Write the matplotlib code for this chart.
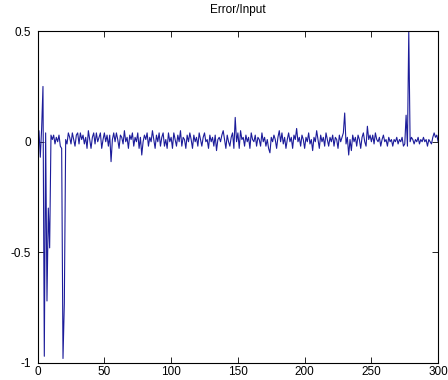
import numpy as np
import matplotlib.pyplot as plt

plt.rcParams['font.family'] = ['Liberation Sans', 'DejaVu Sans']

# Error/Input signal (in hundredths), one value per sample 0..300
err_pct = [
    0, 5, -7, 6, 25, -97, 4, -72, -30, -48,
    3, 1, 3, -1, 2, 0, 3, -2, -3, -98,
    -73, 1, -1, 4, 2, -1, 4, 1, -2, 3,
    4, -1, 4, 1, 3, -1, 2, -3, 5, 1,
    -3, 2, 4, -1, 4, 0, 2, 4, -3, 1,
    4, 0, 3, -2, 3, -9, 1, 4, 0, 4,
    1, -3, 3, 2, -1, 5, 0, 2, -3, 3,
    1, 4, -2, 2, 0, 4, -3, 2, -6, 0,
    3, 1, 4, -2, 2, 0, 5, 1, -3, 3,
    0, 4, -2, 2, 4, -2, 1, -3, 4, 0,
    2, -3, 4, 1, -2, 3, 0, 5, -2, 2,
    1, -3, 3, 0, 4, 1, -3, 3, 0, 2,
    -2, 4, 1, -2, 2, 4, 0, 1, -3, 3,
    0, 2, -2, 3, -4, 1, 2, 0, 3, 5,
    1, -3, 3, 0, -2, 2, 4, -3, 11, 0,
    4, -3, 5, 1, 2, -2, 3, 0, 2, -3,
    4, 1, 0, 3, -2, 2, 1, -2, 4, 0,
    2, -2, 1, -3, -5, 2, 0, 3, 1, -3,
    2, 5, 0, 4, -1, 2, -3, 1, 4, 0,
    2, -3, 3, 1, 6, 0, 2, -2, 3, 1,
    -3, 2, 0, 4, -1, 1, -4, 2, 0, 5,
    1, -3, 3, 0, 2, -2, 4, 1, -2, 2,
    0, 3, -2, 2, 1, -3, 3, 0, 2, 4,
    13, -1, 2, -6, 1, -4, 3, 0, 2, -2,
    3, 1, -3, 2, 4, 0, -2, 7, 1, 3,
    0, 3, -1, 4, 1, 0, 2, -2, 1, 3,
    0, 1, -2, 2, 0, 1, -2, 1, 0, 2,
    -1, 1, 0, 2, -2, -1, 12, -2, 50, 0,
    2, 1, -1, 1, 0, 2, -1, 1, 0, 2,
    0, 1, -2, 1, 0, -1, 2, 4, 2, 3,
    0,
]
err = np.array(err_pct) / 100.0
n = np.arange(len(err))

xticks = [0, 50, 100, 150, 200, 250, 300]
yticks = [-1, -0.5, 0, 0.5]
ytick_labels = ['-1', '-0.5', '0', '0.5']

fig = plt.figure(figsize=(4.48, 3.8), dpi=100)
ax = fig.add_axes([0.084, 0.045, 0.894, 0.873])
ax.plot(n, err, color='#1c1c9a', linewidth=0.8)

ax.set_xlim(0, 300)
ax.set_ylim(-1, 0.5)
ax.set_xticks(xticks)
ax.set_yticks(yticks)
ax.set_yticklabels(ytick_labels)
ax.tick_params(direction='in', top=True, right=True, length=4, width=0.6,
               labelsize=8.5)
ax.tick_params(axis='x', pad=2)
ax.tick_params(axis='y', pad=5)
for s in ax.spines.values():
    s.set_linewidth(0.8)
ax.set_title('Error/Input', fontsize=8.5, pad=13)

fig.savefig('out.png', dpi=100)
